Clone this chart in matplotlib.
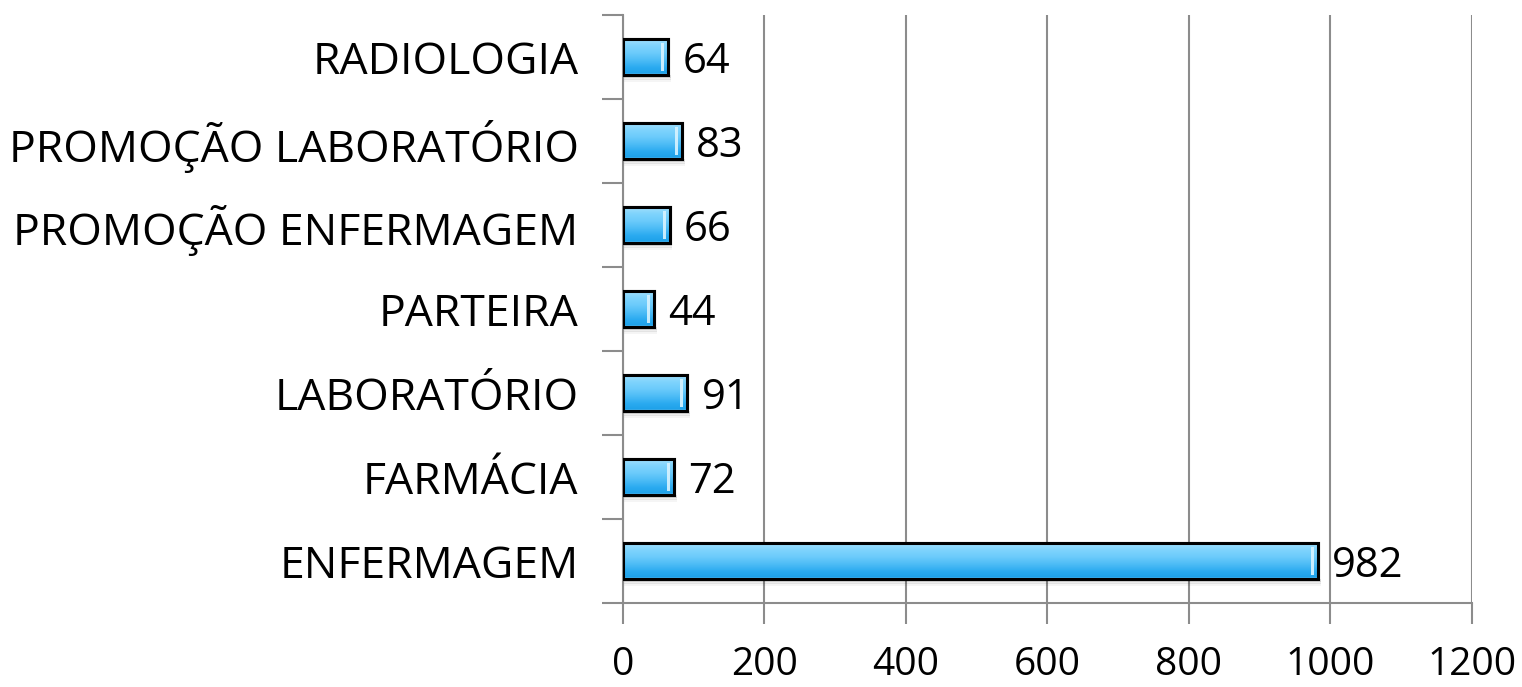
import numpy as np
import matplotlib.pyplot as plt
from matplotlib.colors import LinearSegmentedColormap
from matplotlib.patches import Rectangle

# dados por curso
cursos = ["ENFERMAGEM", "FARMÁCIA", "LABORATÓRIO", "PARTEIRA",
          "PROMOÇÃO ENFERMAGEM", "PROMOÇÃO LABORATÓRIO", "RADIOLOGIA"]
totais = [982, 72, 91, 44, 66, 83, 64]
ticks_x = [0, 200, 400, 600, 800, 1000, 1200]

plt.rcParams['font.family'] = ['Open Sans', 'DejaVu Sans']

fig = plt.figure(figsize=(15.22, 6.87), dpi=100)
ax = fig.add_axes([0.4093, 0.1223, 0.5578, 0.8557])

pos = np.arange(len(cursos))
altura = 0.43
barras = ax.barh(pos, totais, height=altura, color='#4cb8f2',
                 edgecolor='black', linewidth=2.2, zorder=3)

# degradê azul dentro de cada barra
cmap = LinearSegmentedColormap.from_list(
    'azul', ['#1b9fe8', '#2aaaf0', '#4dbcf6', '#6ccbfb', '#80d4fd', '#a9e2fc'])
grad = np.linspace(0, 1, 256).reshape(-1, 1)
grad[:8] = 0.95  # faixa clara na borda inferior
for i, b in enumerate(barras):
    x0, y0 = b.get_x(), b.get_y()
    w, h = b.get_width(), b.get_height()
    im = ax.imshow(grad, cmap=cmap, aspect='auto', origin='lower',
                   extent=[x0, x0 + w, y0, y0 + h], zorder=3.5, vmin=0, vmax=1)
    im.set_clip_path(b)
    # reflexo claro perto da ponta
    ax.add_patch(Rectangle((x0 + w - 10, y0 + h * 0.12), 4.5, h * 0.76,
                           facecolor='#d8f3ff', edgecolor='none', alpha=0.9, zorder=3.6))
    # contorno por cima do degradê
    ax.add_patch(Rectangle((x0, y0), w, h, facecolor='none',
                           edgecolor='black', linewidth=2.2, zorder=3.7))
    # sombra suave embaixo
    for k, a in enumerate([0.10, 0.07, 0.04]):
        ax.add_patch(Rectangle((x0 + 2, y0 - 0.035 - k * 0.025), w + 2, 0.035,
                               facecolor='black', edgecolor='none', alpha=a, zorder=2.5))
    ax.text(x0 + w + 20, pos[i] - 0.06, str(int(w)),
            va='center', ha='left', fontsize=30, zorder=4)

ax.set_xlim(0, 1200)
ax.set_ylim(-0.5, len(cursos) - 0.5)
ax.set_xticks(ticks_x)
ax.set_xticklabels([str(t) for t in ticks_x], fontsize=28)
ax.set_yticks(pos)
ax.set_yticklabels(cursos, fontsize=32)
ax.set_yticks(np.arange(-0.5, len(cursos), 1), minor=True)

ax.tick_params(axis='y', which='major', length=0, pad=32)
ax.tick_params(axis='y', which='minor', length=15, width=1.5, color='#8c8c8c')
ax.tick_params(axis='x', length=15, width=1.5, color='#8c8c8c', pad=16)

ax.grid(axis='x', color='#8c8c8c', linewidth=1.5, zorder=0)
ax.set_axisbelow(True)
for lado in ['top', 'right']:
    ax.spines[lado].set_visible(False)
for lado in ['left', 'bottom']:
    ax.spines[lado].set_color('#8c8c8c')
    ax.spines[lado].set_linewidth(1.5)

fig.savefig('out.png', dpi=100)
